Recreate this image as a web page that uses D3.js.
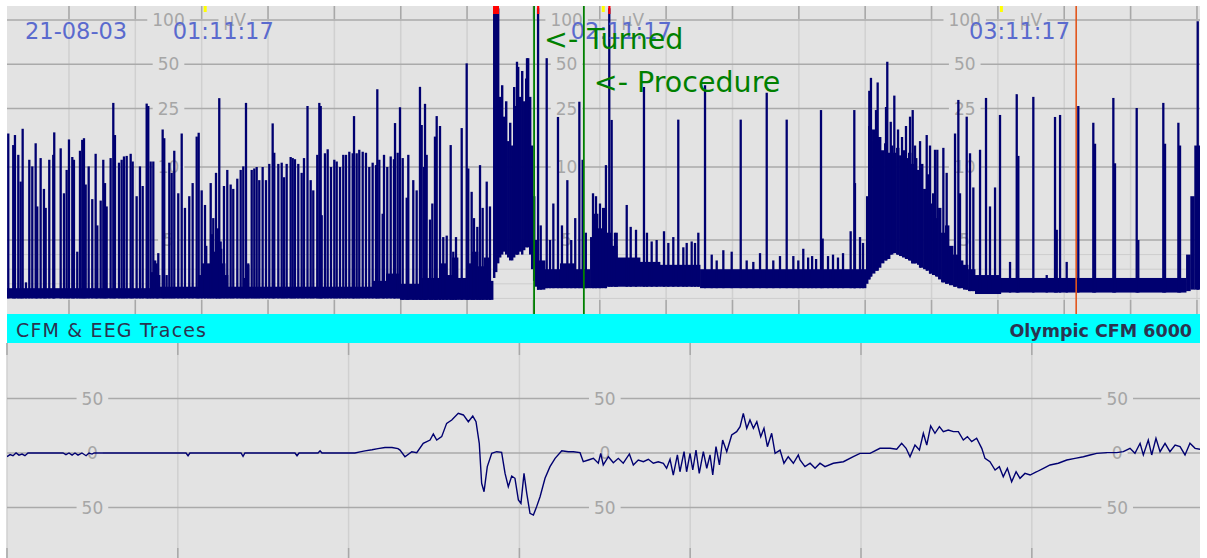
<!doctype html>
<html lang="en">
<head>
<meta charset="utf-8">
<title>CFM &amp; EEG Traces</title>
<script src="https://d3js.org/d3.v7.min.js"></script>
<style>
  body { margin: 0; background: #fff; }
  svg { display: block; font-family: "DejaVu Sans", sans-serif; }
</style>
</head>
<body>
<script>

// ---------- data ----------
// CFM time axis: minutes since 00:41:17
var recDate = "21-08-03";
var hourTimes = [30, 90, 150];
var hourLabels = ["01:11:17", "02:11:17", "03:11:17"];

var cfmTicks = [100, 50, 25, 10, 5];
var cfmTickLabels = ["100", "50", "25", "10", "5"];
var cfmMinor = [1, 2, 3, 4];

// background activity band: [from min, to min, low uV, high uV]
var cfmBand = [
  [0.66, 22.21, 1.0, 1.7], [22.21, 22.66, 1.0, 2.8], [22.66, 23.11, 1.0, 3.6], [23.11, 23.72, 1.0, 2.6],
  [23.72, 29.44, 1.0, 1.8], [29.44, 29.90, 1.0, 2.6], [29.90, 30.35, 1.0, 3.4], [30.35, 30.80, 1.0, 4.6],
  [30.80, 31.25, 1.0, 3.4], [31.25, 31.70, 1.0, 5.4], [31.70, 32.16, 1.0, 4.2], [32.16, 32.61, 1.0, 5.8],
  [32.61, 33.06, 1.0, 4.4], [33.06, 33.51, 1.0, 3.4], [33.51, 33.96, 1.0, 2.6], [33.96, 36.22, 1.0, 1.8],
  [36.22, 36.68, 1.0, 2.4], [36.68, 37.13, 1.0, 3.3], [37.13, 55.67, 1.0, 1.8], [55.67, 57.78, 1.0, 2.2],
  [57.78, 59.89, 1.0, 2.7], [59.89, 62.90, 0.9, 2.0], [62.90, 65.92, 0.9, 2.4], [65.92, 66.82, 0.9, 3.4],
  [66.82, 67.73, 0.9, 2.6], [67.73, 68.63, 0.9, 3.8], [68.63, 69.84, 0.9, 2.4], [69.84, 70.74, 0.9, 3.4],
  [70.74, 71.64, 0.9, 4.2], [71.64, 72.55, 0.9, 3.2], [72.55, 73.45, 0.9, 3.8], [73.45, 73.91, 0.9, 2.2],
  // burst before the turn
  [73.91, 74.21, 2.4, 120], [74.21, 74.51, 2.8, 120], [74.51, 74.81, 3.4, 120], [74.81, 75.11, 3.8, 30],
  [75.11, 75.41, 4.0, 36], [75.41, 75.71, 4.2, 22], [75.71, 76.02, 4.0, 28], [76.02, 76.32, 3.8, 15],
  [76.32, 76.62, 3.6, 20], [76.62, 76.92, 3.6, 14], [76.92, 77.22, 3.8, 35], [77.22, 77.52, 4.0, 26],
  [77.52, 77.82, 4.0, 48], [77.82, 78.13, 4.2, 30], [78.13, 78.43, 4.0, 45], [78.43, 78.73, 4.3, 28],
  [78.73, 79.03, 4.5, 40], [79.03, 79.33, 4.5, 55], [79.33, 79.63, 4.0, 30], [79.63, 79.93, 3.0, 14],
  [79.93, 80.24, 2.2, 8], [80.24, 80.54, 1.8, 5],
  [80.54, 81.74, 1.6, 3.6], [81.74, 84.00, 1.7, 3.0], [84.00, 86.26, 1.7, 3.4], [86.26, 88.53, 1.7, 3.0],
  [88.53, 89.13, 1.7, 5.2], [89.13, 89.73, 1.7, 6.8], [89.73, 90.33, 1.7, 5.8], [90.33, 90.93, 1.7, 7.2],
  [90.93, 91.69, 1.8, 5.5], [91.69, 92.60, 1.8, 4.6], [92.60, 96.06, 1.8, 3.8], [96.06, 99.07, 1.8, 3.5],
  [99.07, 105.11, 1.8, 3.3], [105.11, 130.12, 1.7, 3.0],
  // burst after the procedure
  [130.12, 130.43, 2.0, 8], [130.43, 130.73, 2.3, 19], [130.73, 131.03, 2.5, 15], [131.03, 131.48, 2.7, 18],
  [131.48, 131.93, 2.9, 12], [131.93, 132.38, 3.1, 16], [132.38, 132.84, 3.4, 13], [132.84, 133.29, 3.6, 14.5],
  [133.29, 133.74, 3.7, 12.5], [133.74, 134.19, 4.0, 14], [134.19, 134.65, 4.1, 12.5], [134.65, 135.10, 4.0, 13.5],
  [135.10, 135.55, 3.9, 12], [135.55, 136.00, 3.8, 13], [136.00, 136.45, 3.7, 11.5], [136.45, 136.91, 3.6, 12.5],
  [136.91, 137.36, 3.4, 10.5], [137.36, 137.81, 3.4, 11.5], [137.81, 138.26, 3.3, 9.8], [138.26, 138.72, 3.1, 10.5],
  [138.72, 139.17, 3.0, 8.5], [139.17, 139.62, 2.9, 9.5], [139.62, 140.07, 2.7, 7.5], [140.07, 140.52, 2.6, 8.2],
  [140.52, 140.98, 2.5, 6.5], [140.98, 141.43, 2.3, 7.2], [141.43, 142.03, 2.1, 5.5], [142.03, 142.63, 2.0, 6.0],
  [142.63, 143.24, 1.9, 4.6], [143.24, 143.99, 1.8, 4.0], [143.99, 144.74, 1.7, 3.6], [144.74, 145.50, 1.6, 3.3],
  [145.50, 146.55, 1.5, 3.0], [146.55, 150.32, 1.3, 2.6], [150.32, 178.36, 1.4, 2.4], [178.36, 179.0, 1.5, 4],
  [179.0, 179.6, 1.6, 8], [179.6, 180.46, 1.6, 14]
];

// spikes above the band: [time min, peak uV]
var cfmSpikes = [
  [0.85,16.9],[1.60,14.1],[1.86,16.5],[2.36,12.1],[2.72,9.0],[3.02,18.2],[3.52,2.1],[4.02,11.2],
  [4.47,10.1],[4.98,14.5],[5.22,7.3],[5.73,11.5],[6.23,8.5],[6.49,7.2],[7.03,11.2],[7.63,12.1],
  [7.78,17.2],[8.75,13.4],[9.25,8.2],[9.65,9.8],[10.0,15.4],[10.5,11.7],[10.75,11.2],[11.25,4.2],
  [11.66,12.9],[12.0,15.3],[12.26,15.7],[12.52,8.8],[12.97,10.1],[13.51,7.8],[14.02,12.3],[14.27,6.0],
  [14.78,7.7],[15.17,11.2],[15.43,8.9],[15.68,7.3],[16.28,11.5],[16.68,27.3],[16.93,16.5],[17.54,10.7],
  [17.94,11.2],[18.29,11.8],[18.70,11.9],[19.30,12.3],[19.60,10.9],[20.20,8.0],[20.70,10.1],[21.11,8.7],
  [21.71,27],[21.95,26],[22.31,10.9],[22.71,10.9],[23.22,3.4],[23.46,4.1],[24.12,18.0],[24.36,15.7],
  [24.72,2.6],[25.12,10.7],[25.48,9.6],[25.87,12.9],[26.47,8.2],[26.99,16.9],[27.48,7.2],[28.13,8.0],
  [28.64,8.9],[29.25,16.1],[29.55,17.1],[30.0,8.4],[30.5,7.4],[31.0,2.4],[31.36,8.9],[31.75,6.5],
  [32.16,9.6],[32.35,4.4],[32.65,29.4],[32.86,4.9],[33.36,8.7],[33.86,9.8],[34.37,8.8],[34.76,8.5],
  [35.37,9.2],[35.88,9.8],[36.27,10.1],[36.68,27.3],[37.02,3.4],[37.54,9.8],[37.93,9.9],[38.29,10.0],
  [38.68,9.1],[39.19,10.0],[39.69,9.1],[40.19,10.5],[40.70,19.8],[40.94,12.5],[41.55,10.5],[42.06,10.7],
  [42.41,9.3],[42.81,10.5],[43.41,11.7],[43.72,11.5],[44.06,11.3],[44.56,10.5],[45.07,9.6],[45.42,11.5],
  [45.95,26],[46.43,9.1],[46.82,8.4],[47.42,12.1],[47.73,27.3],[47.94,26],[48.09,6.7],[48.58,12.4],
  [48.99,13.2],[49.49,10.0],[49.99,11.2],[50.35,10.9],[50.85,10.0],[51.34,12.1],[51.75,12.1],[52.25,12.7],
  [52.76,12.4],[52.96,22.2],[53.36,12.4],[53.75,13.1],[54.27,12.7],[54.76,12.5],[55.26,10.0],[55.77,10.7],
  [56.27,10.3],[56.47,33.8],[56.77,11.2],[57.28,6.8],[57.48,12.1],[57.97,10.0],[58.49,11.8],[58.98,11.3],
  [59.14,19.9],[59.54,12.5],[59.89,25.5],[60.30,11.5],[60.90,7.9],[61.14,12.1],[61.89,9.1],[62.40,8.4],
  [62.90,35.1],[63.16,19.3],[63.51,10.0],[63.66,26.9],[63.91,12.1],[64.41,6.4],[64.76,7.5],[65.16,16.1],
  [65.42,22.2],[65.92,19.0],[66.41,5.2],[66.93,5.3],[67.53,14.1],[67.92,4.2],[68.33,5.2],[69.19,18.4],
  [69.94,50.7],[70.18,9.9],[70.69,8.3],[71.04,6.5],[71.54,5.9],[71.95,10.3],[72.35,7.2],[72.96,9.0],
  [73.45,7.3],
  [77.52,52],[79.03,55],[80.70,120],
  [81.1,6],[82.00,55],[82.5,5],[83.0,7.5],[83.70,21.9],[84.3,6],[85.11,9.1],[85.7,5],[86.3,6.5],
  [86.92,27.8],[87.42,11.2],[87.9,5.5],[88.98,8.2],[89.43,8.0],[90.03,7.5],[90.93,10.3],[91.43,120],
  [91.79,20.9],[92.29,5.5],[92.55,5.5],[94.06,7.4],[94.66,5.9],[95.46,5.7],[96.66,35],[97.11,5.5],
  [97.82,4.9],[98.57,5.0],[99.68,5.6],[100.33,4.8],[101.08,5.2],[101.83,21],[102.59,4.5],[103.10,4.8],
  [103.85,4.9],[104.35,4.8],[104.85,5.5],[105.86,36],[106.87,4.0],[107.62,3.6],[108.62,4.3],[109.88,4.2],
  [111.24,21],[112.14,3.6],[113.14,3.5],[114.15,4.1],[115.16,32],[116.15,3.6],[117.16,3.9],[118.17,21],
  [119.17,3.9],[119.92,3.6],
  [120.67,4.4],[121.4,3.8],[122.0,3.9],[122.6,3.7],[123.34,24.4],[123.59,5.1],[124.4,3.9],[125.15,4.0],
  [125.9,3.8],[126.66,4.1],[127.81,5.6],[128.36,24.4],[128.46,8.9],[129.22,5.2],[129.67,4.8],[130.62,33],
  [130.87,40.4],[131.63,24.4],[131.88,37.6],[133.14,25.6],[133.33,52],[133.85,20.3],[134.39,30.6],[134.95,18],
  [135.55,16],[136.15,19],[136.76,22],[137.16,24.4],[137.51,14],[138.27,15],[139.27,16.5],[139.77,14],
  [140.52,13.1],[140.87,13.1],[141.78,13.5],[142.28,9.6],[143.54,16.9],[144.04,28.6],[144.29,8.2],[145.30,22],
  [145.80,12.4],[146.30,8.6],[147.31,13.1],[148.21,29.5],[148.81,7.3],[149.57,8.6],[150.32,22.6],[151.83,3.5],
  [152.84,31.3],[153.08,11.9],[155.34,30],[157.36,2.6],[158.61,21.9],[158.87,5.7],[159.37,22.6],[160.37,3.5],
  [162.12,26],[164.38,20],[164.64,14.4],[167.40,29.5],[167.65,10.6],[170.92,25.2],[171.16,5.0],[174.93,27.3],
  [175.19,14.4],[177.20,20],[177.45,14],[180.12,98]
];

var eventTimes = [80.1, 87.6, 161.8];
var eventLabels = ["<- Turned", "<- Procedure", ""];
var eventKinds = ["note", "note", "mark"];

// EEG trace: [seconds, uV]
var eegTicks = [50, 0, -50];
var eegTickLabels = ["50", "0", "50"];
var eeg = [
  [0,-3.4],[0.018,-1.5],[0.035,-2.5],[0.053,0],[0.070,-2],[0.088,-1],[0.105,-2.5],[0.123,0],
  [0.328,0],[0.345,-1.5],[0.363,0],[0.381,-2],[0.398,0],[0.416,-2],[0.439,0],[0.463,-2.5],
  [0.480,0],[0.498,-1],[0.51,0],[1.048,0],[1.060,-2.5],[1.071,0],[1.370,0],[1.382,-3],
  [1.393,0],[1.686,0],[1.698,-2.5],[1.710,0],[1.821,0],[1.833,2],[1.844,0],[2.037,0],
  [2.067,1],[2.096,2],[2.137,3],[2.172,4],[2.213,5],[2.254,5],[2.289,4],[2.301,2.7],
  [2.330,-3.4],[2.370,1.2],[2.399,0.3],[2.437,8.9],[2.477,11.9],[2.496,17.4],[2.516,11.9],[2.545,15.0],
  [2.574,27.2],[2.604,30.3],[2.642,36.4],[2.672,34.9],[2.701,28.7],[2.727,33.9],[2.746,28.7],[2.765,8.9],
  [2.779,-27.8],[2.793,-35.5],[2.812,-12.5],[2.838,-0.3],[2.867,1.2],[2.896,0.6],[2.916,-18.7],[2.935,-30.9],
  [2.955,-21.1],[2.974,-23.2],[2.994,-43.1],[3.009,-46.2],[3.027,-18.7],[3.043,-37],[3.062,-55.3],[3.082,-56.9],
  [3.101,-49.2],[3.121,-40.1],[3.150,-23.2],[3.179,-12.5],[3.209,-4.9],[3.248,2.1],[3.286,1.2],[3.316,1.2],
  [3.355,0.3],[3.374,-8.0],[3.404,-6.4],[3.433,-4.9],[3.462,-9.4],[3.476,-0.3],[3.491,-11.0],[3.521,-3.4],
  [3.550,-8.9],[3.579,-4.9],[3.608,-9.4],[3.644,-0.9],[3.667,-11],[3.696,-6.4],[3.726,-8],[3.755,-5.8],
  [3.784,-9.4],[3.813,-8],[3.843,-9.4],[3.862,-14],[3.882,-5.8],[3.901,-20.2],[3.925,-1.8],[3.940,-17.2],
  [3.964,1.2],[3.979,-17.2],[3.999,-0.3],[4.015,-15.6],[4.034,2.7],[4.053,-18.7],[4.077,1.2],[4.097,-14],
  [4.116,-1.8],[4.132,-20.2],[4.151,5.8],[4.171,-11],[4.190,11.9],[4.214,1.2],[4.243,16.5],[4.272,19.6],
  [4.292,24.2],[4.311,36.4],[4.331,22.7],[4.350,30.3],[4.370,22.7],[4.390,28.7],[4.413,15],[4.432,22.7],
  [4.452,5.8],[4.477,18.1],[4.497,-0.3],[4.526,2.7],[4.549,-9.4],[4.574,-3.4],[4.604,-9.4],[4.633,-1.8],
  [4.643,-6.4],[4.672,-12.5],[4.702,-9.4],[4.731,-14],[4.760,-9.4],[4.789,-12.5],[4.838,-9.4],[4.897,-8],
  [4.955,-3.4],[4.994,-0.3],[5.053,-0.3],[5.111,4.3],[5.170,4.3],[5.209,3.4],[5.238,8.9],[5.264,4.3],
  [5.287,-3.4],[5.316,7.3],[5.342,2.7],[5.365,18.1],[5.385,7.3],[5.408,24.8],[5.433,18.1],[5.459,24.2],
  [5.482,19.6],[5.511,21.1],[5.541,19.6],[5.570,19.6],[5.599,11.9],[5.623,15],[5.648,10.4],[5.677,13.5],
  [5.707,4.3],[5.726,-4.9],[5.755,-8],[5.785,-15.6],[5.810,-12.5],[5.833,-21.7],[5.857,-14],[5.882,-26.3],
  [5.908,-17.2],[5.931,-23.2],[5.960,-18.7],[5.990,-20.2],[6.029,-17.2],[6.068,-14],[6.107,-11],[6.155,-9.4],
  [6.205,-6.4],[6.253,-4.9],[6.302,-3.4],[6.341,-1.8],[6.380,-0.3],[6.439,0.3],[6.497,0.3],[6.536,1.2],
  [6.575,4.3],[6.604,-0.3],[6.634,8.9],[6.653,-1.8],[6.682,11.9],[6.702,-1.8],[6.727,13.5],[6.751,1.2],
  [6.780,8.9],[6.809,1.2],[6.839,7.3],[6.868,5.8],[6.897,-1.8],[6.926,8.9],[6.956,4.3],[6.985,3.4]
];

// ---------- layout ----------
var W = 1207, H = 558;
var L = 7, R = 1200;
var cTop = 6, cBot = 314;       // CFM panel
var hTop = 314, hBot = 343;     // title strip
var eTop = 343, eBot = 558;     // EEG panel
var bg = "#e3e3e3", traceCol = "#000070", gridCol = "#aaaaaa", lightGrid = "#d0d0d0", labCol = "#a6a6a6";

var x = d3.scaleLinear().domain([0.66, 180.46]).range([L, R]);
var yLin = d3.scaleLinear().domain([0, 10]).range([313, 167]);
var yLog = d3.scaleLog().domain([10, 100]).range([167, 20]);
function yCfm(v) { return v <= 10 ? yLin(v) : Math.max(cTop, yLog(v)); }

var xs = d3.scaleLinear().domain([0, 7]).range([L, L + 7 * 170.8]);
var ys = d3.scaleLinear().domain([-50, 50]).range([507.5, 398.5]);

var svg = d3.select("body").append("svg").attr("width", W).attr("height", H);
svg.append("rect").attr("width", W).attr("height", H).attr("fill", "#fff");

var defs = svg.append("defs");
defs.append("clipPath").attr("id", "clipC").append("rect")
  .attr("x", L).attr("y", cTop).attr("width", R - L).attr("height", cBot - cTop);
defs.append("clipPath").attr("id", "clipE").append("rect")
  .attr("x", L).attr("y", eTop).attr("width", R - L).attr("height", eBot - eTop);

// labels with a gap cut out of the grid line behind them
function gapLabel(g, cx, cy, txt, anchor) {
  var t = g.append("text").attr("x", cx).attr("y", cy).attr("dy", "0.36em")
    .attr("text-anchor", anchor || "middle").attr("font-size", 17).attr("fill", labCol).text(txt);
  var w = t.node().getComputedTextLength();
  var x0 = anchor === "start" ? cx : cx - w / 2;
  g.insert("rect", function() { return t.node(); })
    .attr("x", x0 - 5).attr("y", cy - 3).attr("width", w + 10).attr("height", 6).attr("fill", bg);
}

// ---------- CFM panel ----------
var gc = svg.append("g");
gc.append("rect").attr("x", L).attr("y", cTop).attr("width", R - L).attr("height", cBot - cTop).attr("fill", bg);

var gridTimes = d3.range(10, 181, 10);
gc.selectAll(".vg").data(gridTimes).enter().append("line")
  .attr("x1", d => x(d)).attr("x2", d => x(d)).attr("y1", cTop).attr("y2", cBot)
  .attr("stroke", lightGrid).attr("stroke-width", 1.5);
gc.selectAll(".vt1").data(gridTimes).enter().append("line")
  .attr("x1", d => x(d)).attr("x2", d => x(d)).attr("y1", cTop).attr("y2", 19)
  .attr("stroke", "#a8a8a8").attr("stroke-width", 1.5);
gc.selectAll(".vt2").data(gridTimes).enter().append("line")
  .attr("x1", d => x(d)).attr("x2", d => x(d)).attr("y1", 300).attr("y2", cBot)
  .attr("stroke", "#a8a8a8").attr("stroke-width", 1.5);

gc.selectAll(".hm").data(cfmMinor).enter().append("line")
  .attr("x1", L).attr("x2", R).attr("y1", d => yCfm(d)).attr("y2", d => yCfm(d))
  .attr("stroke", "#cdcdcd").attr("stroke-width", 1);
gc.selectAll(".hg").data(cfmTicks).enter().append("line")
  .attr("x1", L).attr("x2", R).attr("y1", d => yCfm(d)).attr("y2", d => yCfm(d))
  .attr("stroke", gridCol).attr("stroke-width", 1.3);

var labCentres = [x(25), x(85), x(145)];
labCentres.forEach(function(cx) {
  cfmTicks.forEach(function(v, i) { gapLabel(gc, cx, yCfm(v), cfmTickLabels[i]); });
  gapLabel(gc, cx + 55, yCfm(100), "\u00b5V", "start");
});

// hour markers (yellow)
gc.selectAll(".hmk").data(hourTimes).enter().append("rect")
  .attr("x", d => x(d) + 2).attr("y", cTop).attr("width", 3).attr("height", 6).attr("fill", "#ffff00");

// trace
var tr = gc.append("g").attr("clip-path", "url(#clipC)");
tr.selectAll(".band").data(cfmBand).enter().append("rect")
  .attr("x", d => x(d[0])).attr("width", d => x(d[1]) - x(d[0]) + 0.4)
  .attr("y", d => yCfm(d[3])).attr("height", d => yCfm(d[2]) - yCfm(d[3]))
  .attr("fill", traceCol);

function bandAt(t) {
  var b = cfmBand.find(d => t >= d[0] && t <= d[1]);
  return b || [0, 0, 1, 2];
}
tr.selectAll(".spike").data(cfmSpikes).enter().append("line")
  .attr("x1", d => x(d[0])).attr("x2", d => x(d[0]))
  .attr("y1", d => yCfm(bandAt(d[0])[2])).attr("y2", d => yCfm(d[1]))
  .attr("stroke", traceCol).attr("stroke-width", 2.3);

// over-range caps
tr.selectAll(".capB").data(cfmBand.filter(d => d[3] > 100)).enter().append("rect")
  .attr("x", d => x(d[0])).attr("width", d => x(d[1]) - x(d[0]))
  .attr("y", cTop).attr("height", 8).attr("fill", "#ff0000");
tr.selectAll(".capS").data(cfmSpikes.filter(d => d[1] > 100)).enter().append("rect")
  .attr("x", d => x(d[0]) - 1).attr("width", 2.2)
  .attr("y", cTop).attr("height", 8).attr("fill", "#ff0000");

// date / hour labels
gc.append("text").attr("x", 25).attr("y", 39).attr("font-size", 22.5).attr("fill", "#5a6ace").text(recDate);
gc.selectAll(".hl").data(hourTimes).enter().append("text")
  .attr("x", d => x(d) - 29).attr("y", 39).attr("font-size", 22.5).attr("fill", "#5a6ace")
  .text((d, i) => hourLabels[i]);

// events
eventTimes.forEach(function(t, i) {
  var col = eventKinds[i] === "note" ? "#008000" : "#e2561c";
  gc.append("line").attr("x1", x(t)).attr("x2", x(t)).attr("y1", cTop).attr("y2", cBot)
    .attr("stroke", col).attr("stroke-width", eventKinds[i] === "note" ? 1.8 : 1.6);
  if (eventLabels[i]) {
    gc.append("text").attr("x", x(t) + 10).attr("y", i === 0 ? 49 : 92)
      .attr("font-size", 28.5).attr("fill", col).text(eventLabels[i]);
  }
});

// ---------- title strip ----------
svg.append("rect").attr("x", L).attr("y", hTop).attr("width", R - L).attr("height", hBot - hTop).attr("fill", "#00ffff");
svg.append("text").attr("x", 16).attr("y", 337).attr("font-size", 19).attr("fill", "#2b3350")
  .attr("textLength", 190).attr("lengthAdjust", "spacing").text("CFM & EEG Traces");
svg.append("text").attr("x", 1192).attr("y", 337).attr("text-anchor", "end").attr("font-size", 17.5)
  .attr("font-weight", "bold").attr("fill", "#2b3350").text("Olympic CFM 6000");

// ---------- EEG panel ----------
var ge = svg.append("g");
ge.append("rect").attr("x", L).attr("y", eTop).attr("width", R - L).attr("height", eBot - eTop).attr("fill", bg);
var secs = d3.range(0, 7, 1);
ge.selectAll(".ev").data(secs).enter().append("line")
  .attr("x1", d => xs(d)).attr("x2", d => xs(d)).attr("y1", eTop).attr("y2", eBot)
  .attr("stroke", lightGrid).attr("stroke-width", 1.5);
ge.selectAll(".et1").data(secs).enter().append("line")
  .attr("x1", d => xs(d)).attr("x2", d => xs(d)).attr("y1", eTop).attr("y2", 355)
  .attr("stroke", "#a8a8a8").attr("stroke-width", 1.5);
ge.selectAll(".et2").data(secs).enter().append("line")
  .attr("x1", d => xs(d)).attr("x2", d => xs(d)).attr("y1", 548).attr("y2", eBot)
  .attr("stroke", "#a8a8a8").attr("stroke-width", 1.5);
ge.selectAll(".eh").data(eegTicks).enter().append("line")
  .attr("x1", L).attr("x2", R).attr("y1", d => ys(d)).attr("y2", d => ys(d))
  .attr("stroke", gridCol).attr("stroke-width", 1.3);
[xs(0.5), xs(3.5), xs(6.5)].forEach(function(cx) {
  eegTicks.forEach(function(v, i) { gapLabel(ge, cx, ys(v), eegTickLabels[i]); });
});

ge.append("g").attr("clip-path", "url(#clipE)").append("path")
  .datum(eeg)
  .attr("d", d3.line().x(d => xs(d[0])).y(d => ys(d[1])))
  .attr("fill", "none").attr("stroke", traceCol).attr("stroke-width", 1.4);

</script>
</body>
</html>
